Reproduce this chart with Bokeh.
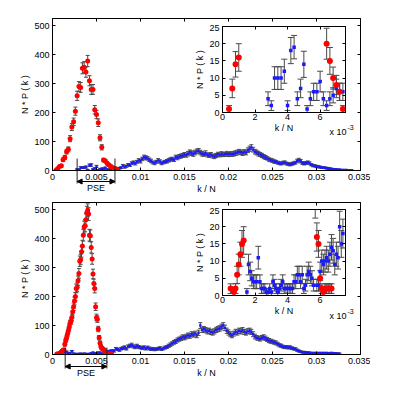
import numpy as np
from bokeh.plotting import figure
from bokeh.models import (Range1d, FixedTicker, LinearAxis, ColumnDataSource, Arrow,
                          NormalHead, Column, CustomJSTickFormatter)
from bokeh.core.properties import value
from bokeh.embed import file_html
from bokeh.resources import INLINE

FONT = "Liberation Sans"

# ---------------- data: panel 1 (top) ----------------
red1_x = [0.0004, 0.0006, 0.0008, 0.0010, 0.0012, 0.0014, 0.0016, 0.0018, 0.0020, 0.0022,
          0.0024, 0.0026, 0.0028, 0.0030, 0.0032, 0.0034, 0.0036, 0.0038, 0.0040, 0.0042,
          0.0044, 0.0046, 0.0048, 0.0050, 0.0052, 0.0054, 0.0056, 0.0058, 0.0060, 0.0062,
          0.0064, 0.0066, 0.0068, 0.0070, 0.0072, 0.0074]
red1_y = [1, 7, 14, 16, 37, 45, 65, 73, 110, 150,
          168, 205, 258, 290, 287, 353, 357, 340, 378, 310,
          280, 280, 210, 193, 165, 113, 80, 36, 33, 25,
          20, 15, 10, 8, 6, 1]
red1_e = [1, 2.7, 3.7, 4, 6, 7, 8, 8.5, 10.5, 12,
          13, 14, 16, 17, 17, 19, 19, 18, 19.5, 17.5,
          17, 17, 14.5, 14, 13, 10.5, 9, 6, 5.7, 5,
          4.5, 3.9, 3.2, 2.8, 2.5, 1]

blue1_start, blue1_step = 0.0028, 0.0002
blue1_y = [4, 2, 10, 10, 10, 12, 2, 18, 19, 4, 7, 14, 1, 4, 6, 6, 9, 4, 2, 4, 5, 7, 6, 6,
           8, 10, 17, 12, 15, 20, 18, 25, 28, 24,
           30, 35, 32, 40, 46, 44, 42, 37, 33, 28,
           25, 30, 35, 31, 25, 28, 30, 32, 35, 38,
           40, 37, 46, 44, 48, 50, 52, 55, 53, 58,
           63, 60, 57, 62, 66, 68, 62, 58, 56, 60,
           54, 52, 55, 50, 48, 52, 56, 54, 57, 55,
           56, 58, 55, 57, 56, 58, 60, 62, 65, 63,
           60, 64, 62, 70, 75, 80, 72, 65, 62, 58,
           55, 52, 48, 45, 42, 38, 36, 34, 31, 30,
           27, 25, 24, 27, 28, 24, 22, 21, 23, 25,
           27, 33, 36, 32, 26, 24, 26, 28, 25, 20,
           17, 16, 14, 13, 12, 10, 10, 9, 8, 7,
           6, 5, 4, 4, 3, 3, 2, 2, 2, 2,
           1, 1, 1]
blue1_e = [2, 1.4, 3.3, 3.3, 3.3, 3.5, 1.4, 4.3, 4.4, 2, 2.7, 3.8, 1, 2, 2.5, 2.5, 3, 2, 1.4, 2,
           2.2, 2.7, 2.5, 2.5,
           3, 3, 4, 4, 4, 4, 4, 5, 5, 5,
           5, 6, 6, 6, 7, 7, 6, 6, 6, 5,
           5, 5, 6, 6, 5, 5, 5, 6, 6, 6,
           6, 6, 7, 7, 7, 7, 7, 7, 7, 8,
           8, 8, 8, 8, 8, 8, 8, 8, 7, 8,
           7, 7, 7, 7, 7, 7, 7, 7, 8, 7,
           7, 8, 7, 8, 7, 8, 8, 8, 8, 8,
           8, 8, 8, 8, 9, 9, 8, 8, 8, 8,
           7, 7, 7, 7, 6, 6, 6, 6, 6, 5,
           5, 5, 5, 5, 5, 5, 5, 5, 5, 5,
           5, 6, 6, 6, 5, 5, 5, 5, 5, 4,
           4, 4, 4, 4, 3, 3, 3, 3, 3, 3,
           2, 2, 2, 2, 2, 2, 1.5, 1.5, 1.5, 1.5,
           1, 1, 1]

# inset 1
in1_red_x = [0.0004, 0.0006, 0.0008, 0.0010, 0.0064, 0.0066, 0.0068, 0.0070, 0.0072, 0.0074]
in1_red_y = [1, 7, 14, 16, 20, 15, 10, 8, 6, 1]
in1_red_e = [1, 2.7, 3.7, 4, 4.5, 3.9, 3.2, 2.8, 2.5, 1]
in1_blue_x = [0.0028, 0.0030, 0.0032, 0.0034, 0.0036, 0.0038, 0.0040, 0.0042, 0.0044, 0.0046,
              0.0048, 0.0050, 0.0052, 0.0054, 0.0056, 0.0058, 0.0060, 0.0062, 0.0064, 0.0066,
              0.0068, 0.0070, 0.0072, 0.0074]
in1_blue_y = [4, 2, 10, 10, 10, 12, 2, 18, 19, 4, 7, 14, 1, 4, 6, 6, 9, 4, 2, 4, 5, 7, 6, 6]
in1_blue_e = [2, 1.4, 3.3, 3.3, 3.3, 3.5, 1.4, 3.8, 3.4, 2, 2.7, 3.8, 1, 2, 2.5, 2.5, 3, 2, 1.4, 2,
              2.2, 2.7, 2.5, 2.5]
pse1 = [0.0028, 0.0071]

# ---------------- data: panel 2 (bottom) ----------------
red2_start, red2_step = 0.0005, 0.0001
red2_y = [2, 2, 1, 2, 6, 9, 12, 15, 16, 35,
          48, 58, 70, 82, 95, 108, 115, 128, 148, 165,
          185, 200, 228, 232, 255, 280, 322, 328, 355, 375,
          412, 440, 445, 465, 490, 498, 485, 412, 410, 370,
          330, 278, 245, 228, 165, 128, 122, 88, 58, 40,
          28, 22, 20, 17, 15, 5, 2, 1, 2, 2,
          2, 2, 2]
red2_e = [1.4, 1.4, 1, 1.4, 2.5, 3, 3.5, 3.9, 4, 6,
          7, 7.6, 8.4, 9, 9.7, 10.4, 10.7, 11.3, 12.2, 12.8,
          13.6, 14, 15, 15.2, 16, 16.7, 18, 18, 18.8, 19.4,
          20.3, 21, 21, 21.5, 22, 22.3, 22, 20.3, 20.2, 19.2,
          18.2, 16.7, 15.7, 15.1, 12.8, 11.3, 11, 9.4, 7.6, 6.3,
          5.3, 4.7, 4.5, 4.1, 3.9, 2.2, 1.4, 1, 1.4, 1.4,
          1.4, 1.4, 1.4]

blue2_start, blue2_step = 0.0014, 0.0002
blue2_y = [8, 9, 5, 4, 11, 3, 2, 2, 2, 3,
           1, 3, 2, 2, 2, 4, 6, 4, 2, 6,
           6, 3, 3, 7, 10, 11, 12, 13, 12, 20,
           18, 15, 20, 22, 25, 20, 28, 30, 33, 28,
           25, 30, 26, 24, 22, 25, 20, 24, 21, 18,
           20, 17, 19, 20, 22, 18, 21, 24, 26, 30,
           34, 38, 42, 45, 50, 53, 56, 60, 58, 62,
           66, 64, 70, 68, 72, 66, 75, 100, 85, 88,
           84, 80, 82, 78, 76, 80, 85, 88, 90, 95,
           100, 92, 82, 76, 70, 66, 72, 78, 76, 82,
           80, 84, 78, 76, 80, 82, 78, 70, 62, 58,
           56, 54, 58, 60, 56, 52, 48, 46, 44, 42,
           40, 36, 32, 30, 27, 25, 26, 24, 25, 22,
           20, 19, 15, 12, 10, 8, 8, 7, 6, 6,
           5, 5, 5, 5, 5, 5, 5, 5, 5, 5,
           4, 5, 5, 4, 4, 3, 3]
blue2_e = [3, 3, 2, 2, 3, 2, 1.5, 1.5, 1.5, 2,
           1, 2, 1.5, 1.5, 1.5, 2, 2.5, 2, 1.5, 2.5,
           2.5, 2, 2, 3, 3, 3, 3.5, 4, 3.5, 4.5,
           4, 4, 4.5, 5, 5, 4.5, 5, 5.5, 6, 5.5,
           5, 5.5, 5, 5, 5, 5, 4.5, 5, 5, 4,
           4.5, 4, 4.5, 4.5, 5, 4, 4.5, 5, 5, 5.5,
           6, 6, 6.5, 7, 7, 7, 7.5, 8, 7.5, 8,
           8, 8, 8.5, 8, 8.5, 8, 9, 10, 9, 9,
           9, 9, 9, 9, 9, 9, 9, 9, 9.5, 10,
           10, 9.5, 9, 9, 8.5, 8, 8.5, 9, 9, 9,
           9, 9, 9, 9, 9, 9, 9, 8.5, 8, 7.5,
           7.5, 7.5, 7.5, 8, 7.5, 7, 7, 7, 6.5, 6.5,
           6.5, 6, 5.5, 5.5, 5, 5, 5, 5, 5, 4.5,
           4.5, 4.5, 4, 3.5, 3, 3, 3, 2.5, 2.5, 2.5,
           2, 2, 2, 2, 2, 2, 2, 2, 2, 2,
           2, 2, 2, 2, 2, 2, 2]

# inset 2
in2_red_x = [0.0005, 0.0007, 0.0008, 0.0009, 0.0010, 0.0011, 0.0012, 0.0013,
             0.0058, 0.0059, 0.0060, 0.0061, 0.0062, 0.0063, 0.0064, 0.0065, 0.0066, 0.0067]
in2_red_y = [2, 1, 2, 6, 9, 12, 15, 16, 17, 15, 5, 2, 1, 2, 2, 2, 2, 2]
in2_red_e = [1.4, 1, 1.4, 2.5, 3, 3.5, 3.9, 4, 4.1, 3.9, 2.2, 1.4, 1, 1.4, 1.4, 1.4, 1.4, 1.4]
in2_blue_start, in2_blue_step = 0.0015, 0.0001
in2_blue_y = [1, 9, 7, 5, 4, 4, 4, 11, 4, 2,
              2, 2, 1, 1, 2, 1, 4, 3, 2, 1,
              2, 3, 4, 2, 2, 2, 2, 2, 2, 4,
              4, 6, 6, 4, 6, 2, 3, 6, 7, 6,
              5, 3, 27, 3, 3, 7, 10, 9, 10, 11,
              10, 12, 14, 13, 9, 12, 11, 20, 15, 18]
in2_blue_e = [1, 3, 2.7, 2.2, 2, 2, 2, 3.3, 2, 1.4,
              1.4, 1.4, 1, 1, 1.4, 1, 2, 1.7, 1.4, 1,
              1.4, 1.7, 2, 1.4, 1.4, 1.4, 1.4, 1.4, 1.4, 2,
              2, 2.5, 2.5, 2, 2.5, 1.4, 1.7, 2.5, 2.7, 2.5,
              2.2, 1.7, 4.5, 1.7, 1.7, 2.7, 3.2, 3, 3.2, 3.3,
              3.2, 3.5, 3.7, 3.6, 3, 3.5, 3.3, 4.5, 3.9, 4.2]
pse2 = [0.00144, 0.00618]

# ---------------- axes / ticks / texts ----------------
main_xticks = [0, 0.005, 0.01, 0.015, 0.02, 0.025, 0.03, 0.035]
main_xlabels = ["0", "0.005", "0.01", "0.015", "0.02", "0.025", "0.03", "0.035"]
main_yticks = [0, 100, 200, 300, 400, 500]
main_ylabels = ["0", "100", "200", "300", "400", "500"]
in_xticks = [0, 0.002, 0.004, 0.006]
in_xlabels = ["0", "2", "4", "6"]
in_yticks = [0, 5, 10, 15, 20, 25]
in_ylabels = ["0", "5", "10", "15", "20", "25"]
x_label = "k / N"
y_label = "N * P ( k )"
mult_base, mult_exp = "x 10", "-3"
pse_text = "PSE"

RED = "#ff0000"
BLUE = "#1a1aff"
ERR = "#4a4a4a"

# page layout (pixels)
MAIN_W = 362
INSET_LEFT = 170
INSET_TOPS = [16, 199]
PSE_TOPS = [142, 326]
PSE_H = 46


def fmt(tv, tl):
    return CustomJSTickFormatter(args=dict(tv=tv, tl=tl), code="""
        for (let i = 0; i < tv.length; i++) {
            if (Math.abs(tv[i] - tick) < 1e-9) return tl[i];
        }
        return "";
    """)


def style_axis(ax, tv, tl, show=True, standoff=3):
    ax.ticker = FixedTicker(ticks=tv)
    ax.formatter = fmt(tv, tl if show else [""] * len(tv))
    ax.major_tick_in = 3
    ax.major_tick_out = 0
    ax.minor_tick_line_color = None
    ax.axis_line_color = "black"
    ax.major_tick_line_color = "black"
    ax.major_label_text_font = FONT
    ax.major_label_text_font_size = "9px" if show else "1px"
    ax.major_label_text_color = "black"
    ax.major_label_standoff = standoff if show else 0
    ax.axis_label_text_font = FONT
    ax.axis_label_text_font_size = "9px"
    ax.axis_label_text_font_style = "normal"
    ax.axis_label_text_color = "black"


def boxed(p, xt, xl, yt, yl, xstand, ystand, xlab_stand, ylab_stand):
    bottom = p.below[0]
    left = p.left[0]
    style_axis(bottom, xt, xl, True, xstand)
    style_axis(left, yt, yl, True, ystand)
    bottom.axis_label = x_label
    left.axis_label = y_label
    bottom.axis_label_standoff = xlab_stand
    left.axis_label_standoff = ylab_stand
    top = LinearAxis()
    style_axis(top, xt, xl, False)
    right = LinearAxis()
    style_axis(right, yt, yl, False)
    p.add_layout(top, "above")
    p.add_layout(right, "right")
    p.grid.visible = False
    p.outline_line_color = "black"


def draw_err(p, x, y, e, cap):
    y = np.asarray(y, float)
    e = np.asarray(e, float)
    src = ColumnDataSource(dict(x=list(x), lo=y - e, hi=y + e))
    p.segment(x0="x", y0="lo", x1="x", y1="hi", source=src, line_color=ERR, line_width=1)
    p.scatter(x="x", y="lo", source=src, marker="dash", size=cap, line_color=ERR, line_width=1)
    p.scatter(x="x", y="hi", source=src, marker="dash", size=cap, line_color=ERR, line_width=1)


def make_main(height, top_border):
    p = figure(width=MAIN_W, height=height, x_range=Range1d(0, 0.035), y_range=Range1d(0, 525),
               output_backend="svg", toolbar_location=None,
               min_border_left=44, min_border_right=10, min_border_top=top_border,
               min_border_bottom=28, background_fill_color="white", border_fill_color="white")
    boxed(p, main_xticks, main_xlabels, main_yticks, main_ylabels, 3, 3, 1, 1)
    # "x 10^-3" multiplier of the inset axis (drawn in the main frame, below the inset)
    p.text(x=[0.03148], y=[134], text=[mult_base], text_font=value(FONT), text_font_size="9px",
           text_baseline="middle", text_align="left", text_color="black")
    p.text(x=[0.03352], y=[150], text=[mult_exp], text_font=value(FONT), text_font_size="7px",
           text_baseline="middle", text_align="left", text_color="black")
    return p


def make_inset(top):
    p = figure(width=177, height=114, x_range=Range1d(0, 0.00756), y_range=Range1d(0, 25),
               output_backend="svg", toolbar_location=None,
               min_border_left=28, min_border_right=4, min_border_top=2, min_border_bottom=26,
               background_fill_color="white", border_fill_color=None)
    boxed(p, in_xticks, in_xlabels, in_yticks, in_ylabels, 1, 3, 0, 1)
    p.styles = {"position": "absolute", "left": f"{INSET_LEFT}px", "top": f"{top}px"}
    return p


def make_pse(main, rng, top, y_line_top, y_line_bot, y_arrow, y_text):
    # transparent strip sharing the main x scale; y is pixels from the strip top
    q = figure(width=MAIN_W, height=PSE_H, x_range=main.x_range, y_range=Range1d(PSE_H, 0),
               output_backend="svg", toolbar_location=None,
               min_border_left=44, min_border_right=10, min_border_top=0, min_border_bottom=0,
               background_fill_color=None, border_fill_color=None, outline_line_color=None)
    q.axis.visible = False
    q.grid.visible = False
    q.segment(x0=rng, y0=[y_line_top] * 2, x1=rng, y1=[y_line_bot] * 2,
              line_color="#222222", line_width=1)
    q.add_layout(Arrow(x_start=rng[0], x_end=rng[1], y_start=y_arrow, y_end=y_arrow,
                       line_color="black", line_width=1,
                       start=NormalHead(size=5, fill_color="black", line_color="black"),
                       end=NormalHead(size=5, fill_color="black", line_color="black")))
    q.text(x=[(rng[0] + rng[1]) / 2], y=[y_text], text=[pse_text], text_font=value(FONT),
           text_font_size="9px", text_align="center", text_baseline="middle",
           text_color="black")
    q.styles = {"position": "absolute", "left": "0px", "top": f"{top}px"}
    return q


def grid_x(start, step, n):
    return list(np.round(start + step * np.arange(n), 6))


# ---------------- panel 1 ----------------
p1 = make_main(190, 10)
b1x = grid_x(blue1_start, blue1_step, len(blue1_y))
draw_err(p1, b1x, blue1_y, blue1_e, 4)
draw_err(p1, red1_x, red1_y, red1_e, 4)
p1.scatter(b1x, blue1_y, marker="square", size=2.4, fill_color=BLUE, line_color=None)
p1.scatter(red1_x, red1_y, marker="circle", size=5, fill_color=RED, line_color=None)

in1 = make_inset(INSET_TOPS[0])
draw_err(in1, in1_blue_x, in1_blue_y, in1_blue_e, 6)
draw_err(in1, in1_red_x, in1_red_y, in1_red_e, 6)
in1.scatter(in1_blue_x, in1_blue_y, marker="square", size=3.5, fill_color=BLUE, line_color=None)
in1.scatter(in1_red_x, in1_red_y, marker="circle", size=6, fill_color=RED, line_color=None)

s1 = make_pse(p1, pse1, PSE_TOPS[0], 8, 33, 31, 37)

# ---------------- panel 2 ----------------
p2 = make_main(184, 4)
b2x = grid_x(blue2_start, blue2_step, len(blue2_y))
r2x = grid_x(red2_start, red2_step, len(red2_y))
draw_err(p2, b2x, blue2_y, blue2_e, 4)
draw_err(p2, r2x, red2_y, red2_e, 4)
p2.scatter(b2x, blue2_y, marker="square", size=2.4, fill_color=BLUE, line_color=None)
p2.scatter(r2x, red2_y, marker="circle", size=5, fill_color=RED, line_color=None)

in2 = make_inset(INSET_TOPS[1])
i2bx = grid_x(in2_blue_start, in2_blue_step, len(in2_blue_y))
draw_err(in2, i2bx, in2_blue_y, in2_blue_e, 6)
draw_err(in2, in2_red_x, in2_red_y, in2_red_e, 6)
in2.scatter(i2bx, in2_blue_y, marker="square", size=3.5, fill_color=BLUE, line_color=None)
in2.scatter(in2_red_x, in2_red_y, marker="circle", size=6, fill_color=RED, line_color=None)

s2 = make_pse(p2, pse2, PSE_TOPS[1], 13, 34, 32, 38)

root = Column(children=[p1, p2, s1, s2, in1, in2], spacing=0,
              styles={"position": "relative", "margin-left": "8px", "margin-top": "8px"})

open("out.html", "w").write(file_html(root, INLINE))
